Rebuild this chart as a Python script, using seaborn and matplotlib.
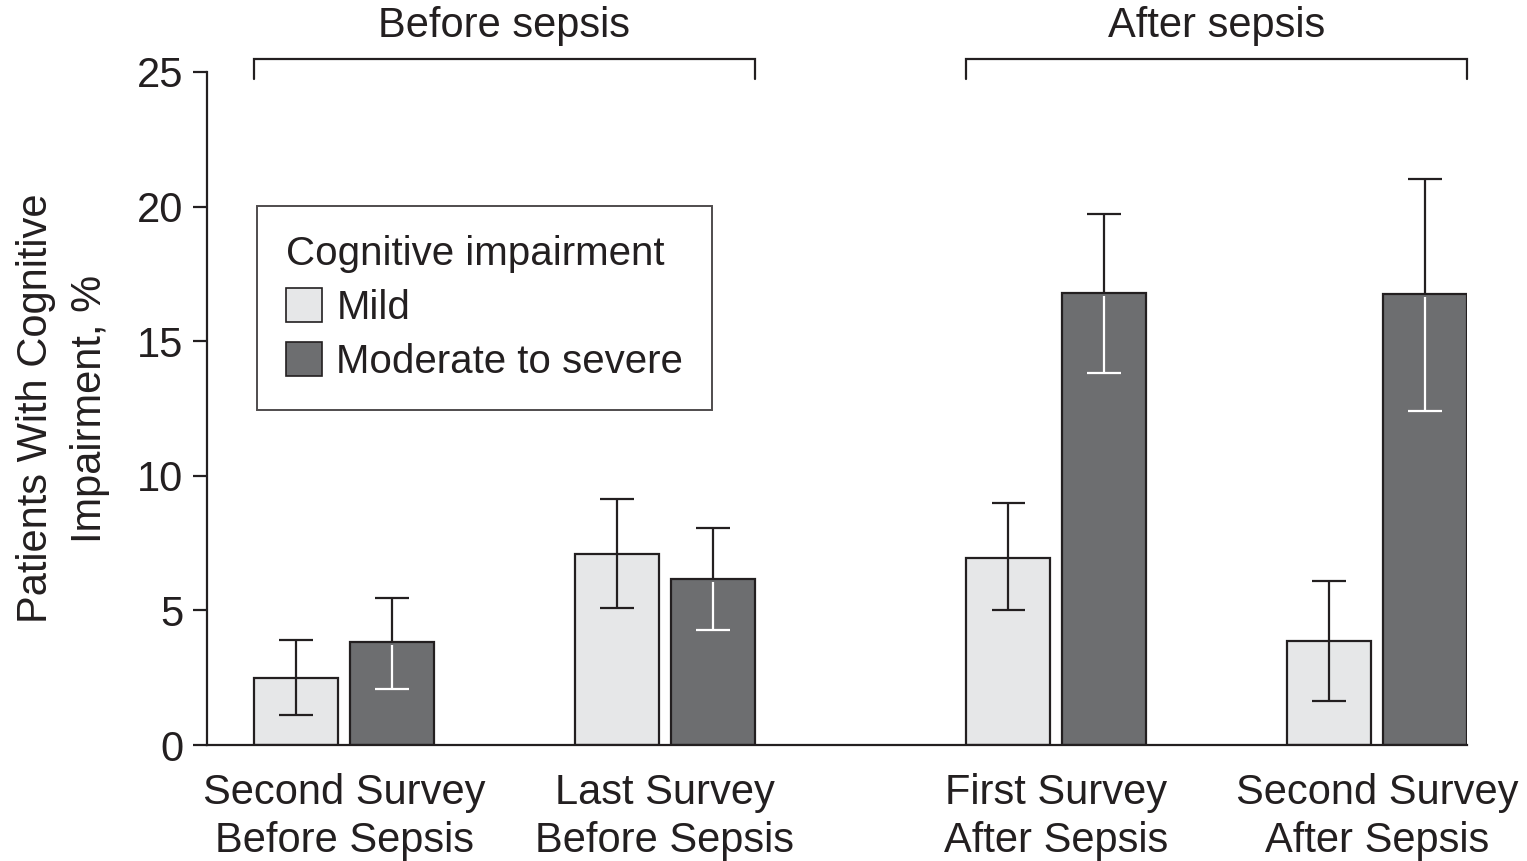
import numpy as np
import pandas as pd
import matplotlib
matplotlib.use("Agg")
import matplotlib.pyplot as plt
import seaborn as sns
from matplotlib.patches import Patch

# ---- data ----
surveys = ["Second Survey\nBefore Sepsis", "Last Survey\nBefore Sepsis",
           "First Survey\nAfter Sepsis", "Second Survey\nAfter Sepsis"]
survey_pos = [0.0, 1.0, 2.22, 3.22]
levels = ["Mild", "Moderate to severe"]
mild = [2.5, 7.1, 6.95, 3.85]
mild_lo = [1.1, 5.1, 5.0, 1.65]
mild_hi = [3.9, 9.15, 9.0, 6.1]
moderate = [3.83, 6.17, 16.8, 16.75]
moderate_lo = [2.08, 4.27, 13.82, 12.4]
moderate_hi = [5.46, 8.06, 19.73, 21.03]
periods = ["Before sepsis", "After sepsis"]
period_groups = [[0, 1], [2, 3]]
yticks = [0, 5, 10, 15, 20, 25]

df = pd.DataFrame({
    "pos": survey_pos * 2,
    "survey": surveys * 2,
    "level": [levels[0]] * 4 + [levels[1]] * 4,
    "value": mild + moderate,
    "lo": mild_lo + moderate_lo,
    "hi": mild_hi + moderate_hi,
})

ink = "#231f20"
light = "#e6e7e8"
dark = "#6d6e70"
FS = 30

sns.set_style("white")
plt.rcParams["font.family"] = ["Liberation Sans", "DejaVu Sans"]
plt.rcParams["text.color"] = ink
plt.rcParams["axes.labelcolor"] = ink
plt.rcParams["xtick.color"] = ink
plt.rcParams["ytick.color"] = ink

fig = plt.figure(figsize=(15.27, 8.61), dpi=100)
ax = fig.add_axes([0.1356, 0.1347, 0.8251, 0.7817])

sns.barplot(data=df, x="pos", y="value", hue="level", hue_order=levels,
            palette=[light, dark], native_scale=True, width=0.598, gap=0.125,
            errorbar=None, edgecolor=ink, linewidth=1.6, saturation=1,
            legend=False, ax=ax)

# error bars, placed at the bars seaborn drew
lw = 1.6
for h, cont in enumerate(ax.containers):
    sub = df[df["level"] == levels[h]].sort_values("pos").reset_index(drop=True)
    bars = sorted(cont.patches, key=lambda p: p.get_x())
    for p, (_, row) in zip(bars, sub.iterrows()):
        xc = p.get_x() + p.get_width() / 2
        cw = p.get_width() * 0.2
        top = p.get_height()
        if h == 0:
            ax.vlines(xc, row.lo, row.hi, color=ink, lw=lw, zorder=5)
            ax.hlines([row.lo, row.hi], xc - cw, xc + cw, color=ink, lw=lw, zorder=5)
        else:
            ax.vlines(xc, top, row.hi, color=ink, lw=lw, zorder=5)
            ax.hlines(row.hi, xc - cw, xc + cw, color=ink, lw=lw, zorder=5)
            ax.vlines(xc, row.lo, top - 0.12, color="white", lw=lw, zorder=5)
            ax.hlines(row.lo, xc - cw, xc + cw, color="white", lw=lw, zorder=5)

# period brackets
all_bars = [p for c in ax.containers for p in c.patches]
for name, grp in zip(periods, period_groups):
    xs = [survey_pos[i] for i in grp]
    sel = [p for p in all_bars
           if min(xs) - 0.5 < p.get_x() + p.get_width() / 2 < max(xs) + 0.5]
    x0 = min(p.get_x() for p in sel)
    x1 = max(p.get_x() + p.get_width() for p in sel)
    ax.plot([x0, x0, x1, x1], [24.75, 25.5, 25.5, 24.75], color=ink, lw=1.6,
            clip_on=False, solid_joinstyle="miter")
    ax.text((x0 + x1) / 2, 26.72, name, ha="center", va="center",
            fontsize=FS, color=ink, clip_on=False)

ax.set_xlim(-0.427, 3.5)
ax.set_ylim(0, 25)
ax.set_yticks(yticks)
ax.set_yticklabels([str(t) for t in yticks], fontsize=FS)
ax.set_xticks(survey_pos)
ax.set_xticklabels(surveys, fontsize=FS, linespacing=1.27)
ax.tick_params(axis="x", length=0, pad=20)
ax.tick_params(axis="y", length=10, width=1.6, pad=7, direction="out", left=True)
for s in ["top", "right"]:
    ax.spines[s].set_visible(False)
for s in ["left", "bottom"]:
    ax.spines[s].set_color(ink)
    ax.spines[s].set_linewidth(1.6)
ax.set_xlabel("")
ax.set_ylabel("Patients With Cognitive\nImpairment, %", fontsize=FS, linespacing=1.45)
ax.yaxis.set_label_coords(-0.077, 0.5)

handles = [Patch(facecolor=light, edgecolor=ink, linewidth=1.2),
           Patch(facecolor=dark, edgecolor=ink, linewidth=1.2)]
leg = ax.legend(handles, levels, title="Cognitive impairment", loc="upper left",
                bbox_to_anchor=(0.0397, 0.8009), borderaxespad=0, fontsize=29,
                title_fontsize=29, frameon=True, fancybox=False, alignment="left",
                handlelength=0.9, handleheight=0.9, handletextpad=0.35,
                labelspacing=0.38, borderpad=0.72)
leg.get_frame().set_edgecolor(ink)
leg.get_frame().set_linewidth(1.4)

fig.savefig("out.png", dpi=100)
